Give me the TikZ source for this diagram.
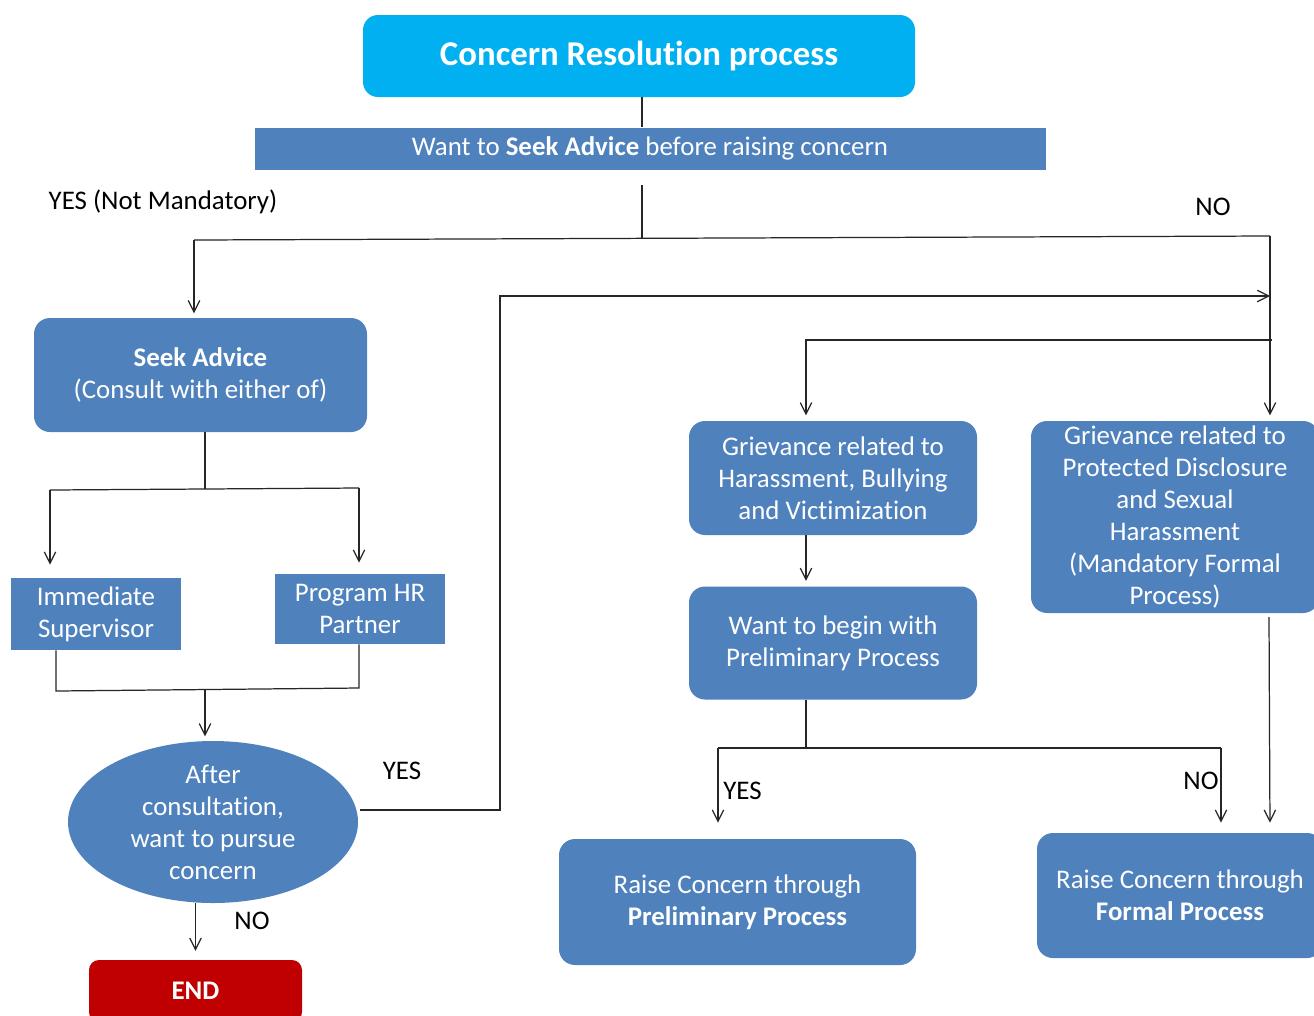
\documentclass[tikz,border=0pt]{standalone}
\usepackage{fontspec}
\setmainfont{Carlito}[Ligatures=CommonOff]
\usetikzlibrary{shapes.geometric,arrows.meta}
\definecolor{cyanT}{HTML}{00B0F0}
\definecolor{blueB}{HTML}{4F81BD}
\definecolor{redE}{HTML}{C00000}
\def\u{0.02cm}
\begin{document}
\begin{tikzpicture}[x=0.02cm,y=-0.02cm,
  base/.style={text=white,align=center,inner sep=0pt,font=\fontsize{15.3}{18.2}\selectfont},
  rbox/.style={base,fill=blueB,rounded corners=0.32cm},
  sbox/.style={base,fill=blueB},
  lbl/.style={font=\fontsize{15.3}{18.2}\selectfont,inner sep=0pt},
  ln/.style={line width=0.7pt,black!85},
  arr/.style={ln,-{Straight Barb[length=6.5pt,width=6.5pt]}}]
\clip (0,0) rectangle (1314,1015);
\fill[white] (0,0) rectangle (1314,1015);
% nodes
\node[base,fill=cyanT,rounded corners=0.3cm,minimum width={552*\u},minimum height={82*\u},font=\fontsize{19.8}{23}\selectfont\bfseries] (title) at (639,56) {Concern Resolution process};
\node[sbox,minimum width={791*\u},minimum height={42*\u}] (bar) at (650,148.5) {Want to \textbf{Seek Advice} before raising concern};
\node[rbox,minimum width={333*\u},minimum height={114*\u}] (seek) at (200.5,375) {\textbf{Seek Advice}\\(Consult with either of)};
\node[sbox,minimum width={170*\u},minimum height={72*\u}] (imm) at (96,614) {Immediate\\Supervisor};
\node[sbox,minimum width={170*\u},minimum height={70*\u}] (prog) at (360,609) {Program HR\\Partner};
\node[base,fill=blueB,ellipse,minimum width={290*\u},minimum height={160*\u}] (after) at (213,822) {After\\consultation,\\want to pursue\\concern};
\node[base,fill=redE,rounded corners=0.2cm,minimum width={213*\u},minimum height={62*\u},font=\fontsize{15.3}{18.2}\selectfont\bfseries] (end) at (195.5,991) {END};
\node[rbox,minimum width={288*\u},minimum height={114*\u}] (grv1) at (833,478) {Grievance related to\\Harassment, Bullying\\and Victimization};
\node[rbox,minimum width={288*\u},minimum height={192*\u}] (grv2) at (1175,517) {Grievance related to\\Protected Disclosure\\and Sexual\\Harassment\\(Mandatory Formal\\Process)};
\node[rbox,minimum width={288*\u},minimum height={113*\u}] (want) at (833,643) {Want to begin with\\Preliminary Process};
\node[rbox,minimum width={357*\u},minimum height={126*\u}] (prel) at (737.5,902) {Raise Concern through\\\textbf{Preliminary Process}};
\node[rbox,minimum width={286*\u},minimum height={125*\u}] (formal) at (1180,895.5) {Raise Concern through\\\textbf{Formal Process}};
% labels
\node[lbl] (l1) at (163,202) {YES (Not Mandatory)};
\node[lbl] (l2) at (1213,207) {NO};
\node[lbl] (l3) at (402,771) {YES};
\node[lbl] (l4) at (252,921) {NO};
\node[lbl,anchor=west] (l5) at (723,791) {YES};
\node[lbl] (l6) at (1201,781) {NO};
% coordinates
\coordinate (j0) at (642,185);
\coordinate (jM) at (642,238);
\coordinate (jL) at (194,240);
\coordinate (jR) at (1270,236);
\coordinate (k0) at (360,810);
\coordinate (k1) at (500,810);
\coordinate (k2) at (500,296);
\coordinate (k3) at (1270,296);
\coordinate (m1) at (1272,340);
\coordinate (m2) at (806,340);
\coordinate (s1) at (205,489);
\coordinate (s2) at (50,490);
\coordinate (s3) at (359,488);
\coordinate (t1) at (56,691);
\coordinate (t2) at (359,688);
\coordinate (t3) at (205,689);
\coordinate (n0) at (806,748);
\coordinate (n1) at (718,748);
\coordinate (n2) at (1221,748);
\coordinate (r1) at (1269,617);
% connectors
\draw[ln] (title.south -| j0) -- (bar.north -| j0);
\draw[ln] (j0) -- (jM);
\draw[ln] (jL) -- (jR);
\draw[arr,shorten >=2.5pt] (jL) -- (seek.north -| jL);
\draw[arr,shorten >=3pt] (jR) -- (grv2.north -| jR);
\draw[arr] (k0) -- (k1) -- (k2) -- (k3);
\draw[arr,shorten >=3pt] (m1) -- (m2) -- (grv1.north -| m2);
\draw[ln] (seek.south -| s1) -- (s1);
\draw[ln] (s2) -- (s3);
\draw[arr,shorten >=0.26cm] (s2) -- (imm.north -| s2);
\draw[arr,shorten >=0.22cm] (s3) -- (prog.north -| s3);
\draw[ln] (imm.south -| t1) -- (t1) -- (t2) -- (prog.south -| t2);
\draw[arr,shorten >=2.5pt] (t3) -- (after.north -| t3);
\draw[arr,shorten >=5pt] (after.south -| end.north) -- (end.north);
\draw[arr,shorten >=3pt] (grv1.south -| m2) -- (want.north -| m2);
\draw[ln] (want.south -| n0) -- (n0);
\draw[ln] (n1) -- (n2);
\draw[arr,shorten >=0.32cm] (n1) -- (prel.north -| n1);
\draw[arr,shorten >=0.2cm] (n2) -- (formal.north -| n2);
\draw[arr,shorten >=0.2cm] (r1) -- (formal.north -| jR);
\end{tikzpicture}
\end{document}
